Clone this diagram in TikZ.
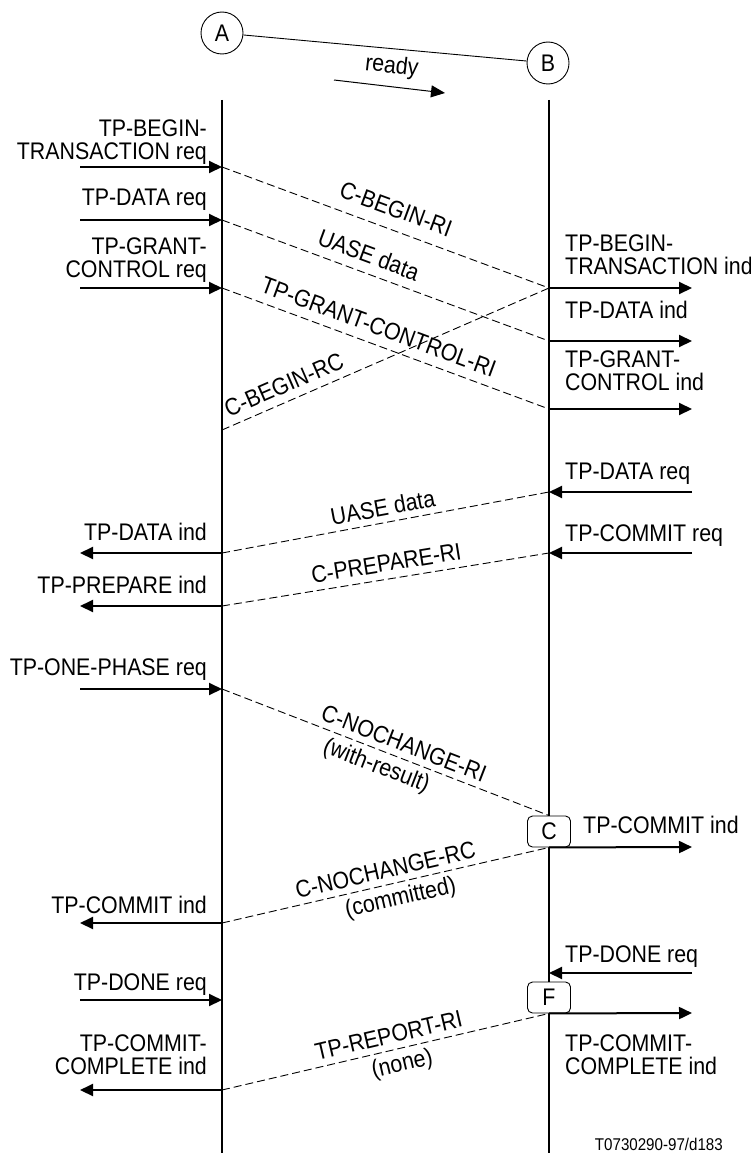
\documentclass[tikz,border=0pt]{standalone}
\usepackage{fontspec}
\setmainfont{Liberation Sans}[FakeStretch=0.89]
\usetikzlibrary{arrows.meta, positioning, calc}

\begin{document}
\begin{tikzpicture}[
    x=1pt, y=-1pt,
    every node/.style={font=\fontsize{24}{23}\selectfont, inner sep=0pt},
    state/.style={circle, draw, line width=0.9pt, minimum size=42pt},
    box/.style={rectangle, draw, fill=white, rounded corners=5pt, line width=0.9pt, minimum width=43pt, minimum height=31pt},
    lifeline/.style={line width=1.6pt},
    prim/.style={-{Triangle[length=13pt, width=12pt]}, line width=2pt},
    msg/.style={dash pattern=on 8pt off 4pt, line width=0.9pt},
    lbl/.style={sloped, inner sep=0pt}
]
    \useasboundingbox (0,0) rectangle (751,1153);

    % Entities
    \node[state] (A) at (222,33) {A};
    \node[state] (B) at (548,63) {B};
    \draw[line width=0.9pt] (A) -- (B);
    \coordinate (r0) at (334,80);
    \coordinate (r1) at (445,93);
    \draw[-{Triangle[length=14pt, width=12pt]}, line width=1pt] (r0) -- node[above=8pt, sloped] {ready} (r1);

    % Lifelines
    \coordinate (Atop) at (222,100);
    \coordinate (Abot) at (222,1153);
    \coordinate (Btop) at (549,100);
    \coordinate (Bbot) at (549,1153);
    \draw[lifeline] (Atop) -- (Abot);
    \draw[lifeline] (Btop) -- (Bbot);

    % Points on the lifelines
    \coordinate (a1) at (222,167);
    \coordinate (a2) at (222,220);
    \coordinate (a3) at (222,288);
    \coordinate (a4) at (222,430);
    \coordinate (a5) at (222,553);
    \coordinate (a6) at (222,606);
    \coordinate (a7) at (222,689);
    \coordinate (a8) at (222,923);
    \coordinate (a9) at (222,1000);
    \coordinate (a10) at (222,1090);
    \coordinate (b1) at (549,288);
    \coordinate (b2) at (549,341);
    \coordinate (b3) at (549,409);
    \coordinate (b4) at (549,492);
    \coordinate (b5) at (549,553);
    \coordinate (b6) at (549,973);

    % Outer ends of the primitives
    \coordinate (la1) at (80,167);
    \coordinate (la2) at (80,220);
    \coordinate (la3) at (80,288);
    \coordinate (la5) at (80,553);
    \coordinate (la6) at (80,606);
    \coordinate (la7) at (80,689);
    \coordinate (la8) at (80,923);
    \coordinate (la9) at (80,1000);
    \coordinate (la10) at (80,1090);
    \coordinate (rb1) at (692,288);
    \coordinate (rb2) at (692,341);
    \coordinate (rb3) at (692,409);
    \coordinate (rb4) at (692,492);
    \coordinate (rb5) at (692,553);
    \coordinate (rb6) at (692,847);
    \coordinate (rb7) at (692,973);
    \coordinate (rb8) at (692,1013);

    % State boxes
    \node[box] (C) at (549,831.5) {C};
    \node[box] (F) at (549,997.5) {F};

    % Left primitives
    \node[anchor=north east, align=right] (lt1) at (207,120) {TP-BEGIN-\\TRANSACTION req};
    \node[anchor=base east] (lt2) at (207,205) {TP-DATA req};
    \node[anchor=north east, align=right] (lt3) at (207,238) {TP-GRANT-\\CONTROL req};
    \node[anchor=base east] (lt4) at (207,540) {TP-DATA ind};
    \node[anchor=base east] (lt5) at (207,593) {TP-PREPARE ind};
    \node[anchor=base east] (lt6) at (207,675) {TP-ONE-PHASE req};
    \node[anchor=base east] (lt7) at (207,913) {TP-COMMIT ind};
    \node[anchor=base east] (lt8) at (207,990) {TP-DONE req};
    \node[anchor=north east, align=right] (lt9) at (207,1035) {TP-COMMIT-\\COMPLETE ind};
    \draw[prim] (la1) -- (a1);
    \draw[prim] (la2) -- (a2);
    \draw[prim] (la3) -- (a3);
    \draw[prim] (a5) -- (la5);
    \draw[prim] (a6) -- (la6);
    \draw[prim] (la7) -- (a7);
    \draw[prim] (a8) -- (la8);
    \draw[prim] (la9) -- (a9);
    \draw[prim] (a10) -- (la10);

    % Right primitives
    \node[anchor=north west, align=left] (rt1) at (565,235) {TP-BEGIN-\\TRANSACTION ind};
    \node[anchor=base west] (rt2) at (565,318) {TP-DATA ind};
    \node[anchor=north west, align=left] (rt3) at (565,351) {TP-GRANT-\\CONTROL ind};
    \node[anchor=base west] (rt4) at (565,479) {TP-DATA req};
    \node[anchor=base west] (rt5) at (565,541) {TP-COMMIT req};
    \node[anchor=base west] (rt6) at (583,833) {TP-COMMIT ind};
    \node[anchor=base west] (rt7) at (565,962) {TP-DONE req};
    \node[anchor=north west, align=left] (rt8) at (565,1035) {TP-COMMIT-\\COMPLETE ind};
    \draw[prim] (b1) -- (rb1);
    \draw[prim] (b2) -- (rb2);
    \draw[prim] (b3) -- (rb3);
    \draw[prim] (rb4) -- (b4);
    \draw[prim] (rb5) -- (b5);
    \draw[prim] (C.south) -- (rb6);
    \draw[prim] (rb7) -- (b6);
    \draw[prim] (F.south) -- (rb8);

    % Protocol messages
    \draw[msg] (a1) -- node[lbl, above=12pt, pos=0.51] {C-BEGIN-RI} (b1);
    \draw[msg] (a2) -- node[lbl, above=9pt, pos=0.43] {UASE data} (b2);
    \draw[msg] (a3) -- node[lbl, above=9pt, pos=0.46] {TP-GRANT-CONTROL-RI} (b3);
    \draw[msg] (a4) -- node[lbl, above=8pt, pos=0.21] {C-BEGIN-RC} (b1);
    \draw[msg] (a5) -- node[lbl, above=6pt, pos=0.50] {UASE data} (b4);
    \draw[msg] (a6) -- node[lbl, above=7pt, pos=0.51] {C-PREPARE-RI} (b5);
    \draw[msg] (a7) -- node[lbl, above=6pt, pos=0.54] {C-NOCHANGE-RI}
        node[lbl, below=5pt, pos=0.49] {(with-result)} (C.north);
    \draw[msg] (a8) -- node[lbl, above=6pt, pos=0.51] {C-NOCHANGE-RC}
        node[lbl, below=5pt, pos=0.535] {(committed)} (C.south);
    \draw[msg] (a10) -- node[lbl, above=6pt, pos=0.52] {TP-REPORT-RI}
        node[lbl, below=5pt, pos=0.54] {(none)} (F.south);

    % Figure reference
    \node[anchor=base east, font=\fontsize{17}{19}\selectfont] (ref) at (723,1150) {T0730290-97/d183};
\end{tikzpicture}
\end{document}
